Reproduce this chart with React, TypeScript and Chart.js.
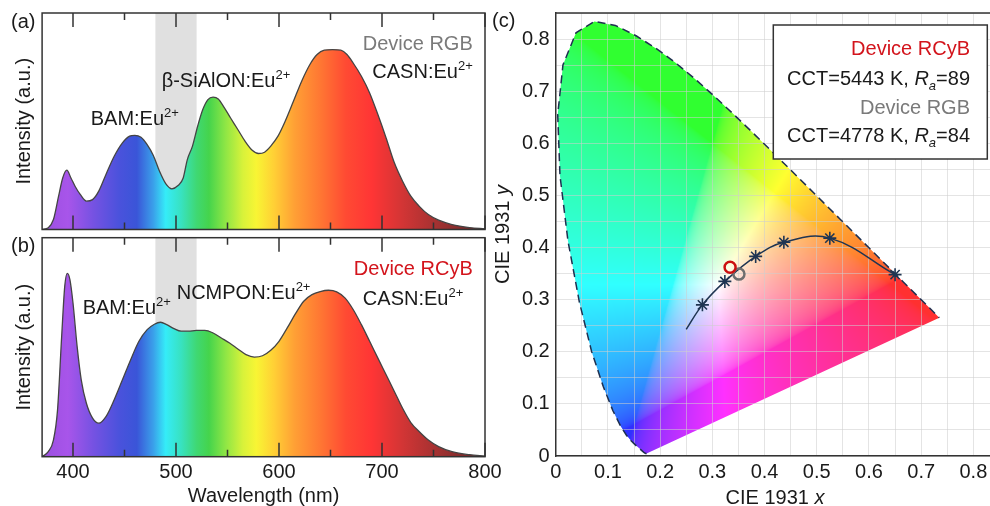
import React, { useEffect, useRef } from 'react';
import { Chart, registerables } from 'chart.js';

Chart.register(...registerables);

const FONT = '"Liberation Sans", Arial, Helvetica, sans-serif';

// ---------------- Panel (a): Device RGB spectrum ----------------
const wavelengthsA = [370, 376, 381, 386, 390, 394, 398, 402, 407, 413, 419, 425, 432, 440, 448, 455, 460, 466, 472, 478, 484, 490, 496, 502, 507, 511, 516, 521, 526, 531, 536, 541, 547, 553, 560, 567, 574, 580, 586, 592, 599, 606, 614, 622, 630, 637, 644, 652, 660, 666, 672, 680, 688, 696, 704, 712, 720, 728, 736, 745, 755, 768, 785, 800];
const intensityA = [0, 0.008, 0.046, 0.154, 0.238, 0.274, 0.238, 0.2, 0.162, 0.131, 0.138, 0.177, 0.254, 0.338, 0.4, 0.431, 0.435, 0.426, 0.392, 0.342, 0.269, 0.212, 0.188, 0.203, 0.238, 0.323, 0.385, 0.477, 0.554, 0.6, 0.611, 0.603, 0.562, 0.515, 0.462, 0.408, 0.366, 0.351, 0.357, 0.385, 0.431, 0.5, 0.592, 0.685, 0.762, 0.808, 0.828, 0.831, 0.828, 0.808, 0.769, 0.708, 0.631, 0.531, 0.423, 0.308, 0.223, 0.154, 0.108, 0.069, 0.043, 0.023, 0.009, 0.003];

// ---------------- Panel (b): Device RCyB spectrum ----------------
const wavelengthsB = [370, 376, 381, 385, 389, 392, 394.5, 397, 400, 404, 408, 413, 419, 425, 432, 440, 448, 456, 464, 472, 479, 485, 491, 498, 505, 512, 520, 528, 536, 544, 552, 560, 568, 576, 584, 592, 600, 608, 616, 624, 632, 640, 648, 656, 664, 672, 680, 688, 696, 704, 712, 720, 728, 736, 745, 755, 768, 785, 800];
const intensityB = [0, 0.023, 0.076, 0.214, 0.55, 0.779, 0.837, 0.809, 0.702, 0.504, 0.351, 0.244, 0.176, 0.153, 0.183, 0.26, 0.351, 0.443, 0.527, 0.58, 0.605, 0.614, 0.603, 0.585, 0.573, 0.573, 0.577, 0.577, 0.565, 0.542, 0.519, 0.492, 0.466, 0.455, 0.461, 0.486, 0.527, 0.588, 0.653, 0.71, 0.74, 0.754, 0.76, 0.753, 0.725, 0.672, 0.603, 0.527, 0.45, 0.374, 0.298, 0.221, 0.156, 0.115, 0.076, 0.046, 0.023, 0.009, 0.003];

const wavelengthMin = 370;
const wavelengthMax = 800;
const wavelengthTickMarks = [400, 450, 500, 550, 600, 650, 700, 750, 800];
const shadedBand = [480, 520];

// ---------------- Panel (c): CIE 1931 ----------------
const locusX = [0.17411, 0.1738, 0.17334, 0.17258, 0.17141, 0.16888, 0.16441, 0.15664, 0.15099, 0.14396, 0.1355, 0.12412, 0.10959, 0.09129, 0.06871, 0.04539, 0.02346, 0.00817, 0.00386, 0.01387, 0.03885, 0.0743, 0.11416, 0.15472, 0.19288, 0.22962, 0.26578, 0.3016, 0.33736, 0.3731, 0.40874, 0.44406, 0.47877, 0.51249, 0.54479, 0.57515, 0.60293, 0.62704, 0.64823, 0.66576, 0.68008, 0.6915, 0.70061, 0.70792, 0.71903, 0.72599, 0.73036, 0.73469];
const locusY = [0.00496, 0.00492, 0.0048, 0.0048, 0.0051, 0.0069, 0.01086, 0.01771, 0.02274, 0.0297, 0.03988, 0.0578, 0.08684, 0.1327, 0.20072, 0.29498, 0.4127, 0.53842, 0.65482, 0.75019, 0.81202, 0.8338, 0.82621, 0.80586, 0.78163, 0.75433, 0.72432, 0.69231, 0.65885, 0.62445, 0.58961, 0.55471, 0.5202, 0.48659, 0.45443, 0.42423, 0.3965, 0.37249, 0.35139, 0.33401, 0.31975, 0.30834, 0.2993, 0.29203, 0.28093, 0.27401, 0.26964, 0.26531];

const curveX = [0.25, 0.281, 0.324, 0.383, 0.437, 0.525, 0.65];
const curveY = [0.243, 0.29, 0.335, 0.383, 0.41, 0.418, 0.348];
const starX = [0.281, 0.324, 0.383, 0.437, 0.525, 0.65];
const starY = [0.29, 0.335, 0.383, 0.41, 0.418, 0.348];
const rcybX = [0.334];
const rcybY = [0.362];
const rgbX = [0.351];
const rgbY = [0.349];

const legendLines = ['Device RCyB', 'CCT=5443 K, ', '89', 'Device RGB', 'CCT=4778 K, ', '84'];

// ---------------- styles ----------------
const gradientStops: [number, string][] = [
  [370, '#9a4fe0'], [395, '#a855ea'], [420, '#7552e2'], [445, '#4a52dc'], [462, '#3a55d8'],
  [478, '#3aa0ea'], [490, '#35ecf8'], [505, '#38e2c0'], [520, '#3fd873'], [532, '#45d44c'],
  [548, '#8ee645'], [565, '#d8f23a'], [578, '#f8f534'], [595, '#ffd035'], [615, '#ffa035'],
  [640, '#ff7733'], [665, '#ff4a33'], [690, '#ff3535'], [720, '#d23535'], [760, '#9a3030'], [800, '#6a2626'],
];
const RED = '#d3141c';
const GRAY = '#7a7a7a';
const NAVY = '#1f3552';
const FRAME = '#333333';
const TEXT = '#1a1a1a';

type Part = { t: string; size?: number; dy?: number; italic?: boolean };

function drawRich(ctx: CanvasRenderingContext2D, parts: Part[], x: number, y: number, align: 'left' | 'right' | 'center', color: string) {
  const fonts = parts.map((p) => `${p.italic ? 'italic ' : ''}${p.size ?? 20}px ${FONT}`);
  const widths = parts.map((p, i) => {
    ctx.font = fonts[i];
    return ctx.measureText(p.t).width;
  });
  const total = widths.reduce((a, b) => a + b, 0);
  let cx = align === 'right' ? x - total : align === 'center' ? x - total / 2 : x;
  ctx.save();
  ctx.fillStyle = color;
  ctx.textBaseline = 'alphabetic';
  ctx.textAlign = 'left';
  parts.forEach((p, i) => {
    ctx.font = fonts[i];
    ctx.fillText(p.t, cx, y + (p.dy ?? 0));
    cx += widths[i];
  });
  ctx.restore();
}

const sup = (base: string): Part[] => [{ t: base }, { t: '2+', size: 13, dy: -8 }];

type Annot = { parts: Part[]; wl: number; val: number; align: 'left' | 'right'; color: string };

const annotationsA: Annot[] = [
  { parts: sup('BAM:Eu'), wl: 417.2, val: 0.515, align: 'left', color: TEXT },
  { parts: sup('β-SiAlON:Eu'), wl: 486.1, val: 0.691, align: 'left', color: TEXT },
  { parts: [{ t: 'Device RGB' }], wl: 788.1, val: 0.86, align: 'right', color: GRAY },
  { parts: sup('CASN:Eu'), wl: 788.1, val: 0.733, align: 'right', color: TEXT },
];
const annotationsB: Annot[] = [
  { parts: [{ t: 'Device RCyB' }], wl: 788.1, val: 0.86, align: 'right', color: RED },
  { parts: sup('NCMPON:Eu'), wl: 500.7, val: 0.753, align: 'left', color: TEXT },
  { parts: sup('BAM:Eu'), wl: 409.4, val: 0.682, align: 'left', color: TEXT },
  { parts: sup('CASN:Eu'), wl: 778.9, val: 0.723, align: 'right', color: TEXT },
];

function spectrumConfig(wl: number[], inten: number[], annots: Annot[], label: string, showX: boolean, layout: any, yAxisWidth: number): any {
  const plugin = {
    id: 'spectrumDecor',
    beforeDraw(chart: any) {
      const { ctx, chartArea: ca, scales } = chart;
      const x = scales.x;
      const x0 = x.getPixelForValue(shadedBand[0]);
      const x1 = x.getPixelForValue(shadedBand[1]);
      ctx.save();
      ctx.fillStyle = '#e0e0e0';
      ctx.fillRect(x0, ca.top, x1 - x0, ca.bottom - ca.top);
      ctx.restore();
    },
    afterDraw(chart: any) {
      const { ctx, chartArea: ca, scales } = chart;
      const x = scales.x;
      const y = scales.y;
      ctx.save();
      ctx.strokeStyle = FRAME;
      ctx.lineWidth = 1.5;
      ctx.strokeRect(ca.left, ca.top, ca.right - ca.left, ca.bottom - ca.top);
      ctx.beginPath();
      wavelengthTickMarks.forEach((v) => {
        const px = x.getPixelForValue(v);
        const len = v % 100 === 0 ? 14 : 7;
        ctx.moveTo(px, ca.bottom);
        ctx.lineTo(px, ca.bottom - len);
        ctx.moveTo(px, ca.top);
        ctx.lineTo(px, ca.top + len);
      });
      ctx.stroke();
      ctx.restore();
      annots.forEach((a) => {
        drawRich(ctx, a.parts, x.getPixelForValue(a.wl), y.getPixelForValue(a.val) + 7, a.align, a.color);
      });
      ctx.save();
      ctx.fillStyle = TEXT;
      ctx.font = `20px ${FONT}`;
      ctx.textBaseline = 'middle';
      ctx.textAlign = 'left';
      ctx.fillText(label, 11, ca.top + 9);
      ctx.restore();
    },
  };
  return {
    type: 'line',
    data: {
      datasets: [
        {
          data: wl.map((w, i) => ({ x: w, y: inten[i] })),
          borderColor: '#444',
          borderWidth: 1.3,
          pointRadius: 0,
          cubicInterpolationMode: 'monotone',
          fill: 'origin',
          backgroundColor: (c: any) => {
            const chart = c.chart;
            if (!chart.chartArea) return 'rgba(0,0,0,0)';
            const xs = chart.scales.x;
            const g = chart.ctx.createLinearGradient(xs.getPixelForValue(wavelengthMin), 0, xs.getPixelForValue(wavelengthMax), 0);
            gradientStops.forEach(([w, col]) => g.addColorStop((w - wavelengthMin) / (wavelengthMax - wavelengthMin), col));
            return g;
          },
        },
      ],
    },
    options: {
      responsive: false,
      animation: false,
      devicePixelRatio: 1,
      events: [],
      layout: { padding: layout, autoPadding: false },
      plugins: { legend: { display: false }, tooltip: { enabled: false } },
      scales: {
        x: {
          type: 'linear',
          min: wavelengthMin,
          max: wavelengthMax,
          display: showX,
          afterFit: (s: any) => {
            if (showX) s.height = 49.3;
            s.paddingLeft = 0;
            s.paddingRight = 0;
          },
          grid: { display: false, drawTicks: false },
          border: { display: false },
          ticks: {
            stepSize: 100,
            includeBounds: false,
            autoSkip: false,
            maxRotation: 0,
            padding: 4,
            color: TEXT,
            font: { family: FONT, size: 20 },
          },
          title: {
            display: true,
            text: 'Wavelength (nm)',
            color: TEXT,
            font: { family: FONT, size: 20, lineHeight: 1 },
            padding: { top: 0, bottom: 0 },
          },
        },
        y: {
          type: 'linear',
          min: 0,
          max: 1,
          afterFit: (s: any) => {
            s.width = yAxisWidth;
          },
          grid: { display: false, drawTicks: false },
          border: { display: false },
          ticks: { display: false },
          title: {
            display: true,
            text: 'Intensity (a.u.)',
            color: TEXT,
            font: { family: FONT, size: 20, lineHeight: 1 },
            padding: { top: 14, bottom: 0 },
          },
        },
      },
    },
    plugins: [plugin],
  };
}

function xyToRgb(x: number, y: number): [number, number, number] {
  if (y <= 0.0001) return [0, 0, 0];
  const X = x / y;
  const Y = 1;
  const Z = (1 - x - y) / y;
  let r = 3.2406 * X - 1.5372 * Y - 0.4986 * Z;
  let g = -0.9689 * X + 1.8758 * Y + 0.0415 * Z;
  let b = 0.0557 * X - 0.204 * Y + 1.057 * Z;
  r = Math.max(r, 0);
  g = Math.max(g, 0);
  b = Math.max(b, 0);
  const m = Math.max(r, g, b);
  if (m <= 0) return [0, 0, 0];
  const gam = (v: number) => (v <= 0.0031308 ? 12.92 * v : 1.055 * Math.pow(v, 1 / 2.4) - 0.055);
  const lift = (v: number) => 48 + gam(v) * 207;
  return [lift(r / m), lift(g / m), lift(b / m)];
}

const cieLabel = (v: number) => {
  const k = Math.round(v * 100);
  if (k % 10 !== 0) return '';
  return k === 0 ? '0' : (k / 100).toFixed(1);
};

function cieConfig(): any {
  const plugin = {
    id: 'cieDecor',
    beforeDraw(chart: any) {
      const { ctx, chartArea: ca, scales } = chart;
      const xs = scales.x;
      const ys = scales.y;
      const w = Math.ceil(ca.right - ca.left);
      const h = Math.ceil(ca.bottom - ca.top);
      const off = document.createElement('canvas');
      off.width = w;
      off.height = h;
      const octx = off.getContext('2d')!;
      const img = octx.createImageData(w, h);
      for (let j = 0; j < h; j++) {
        const yv = ys.getValueForPixel(ca.top + j + 0.5);
        for (let i = 0; i < w; i++) {
          const xv = xs.getValueForPixel(ca.left + i + 0.5);
          const [r, g, b] = xyToRgb(xv, yv);
          const k = (j * w + i) * 4;
          img.data[k] = r;
          img.data[k + 1] = g;
          img.data[k + 2] = b;
          img.data[k + 3] = 255;
        }
      }
      octx.putImageData(img, 0, 0);
      ctx.save();
      ctx.beginPath();
      locusX.forEach((lx, i) => {
        const px = xs.getPixelForValue(lx);
        const py = ys.getPixelForValue(locusY[i]);
        if (i === 0) ctx.moveTo(px, py);
        else ctx.lineTo(px, py);
      });
      ctx.closePath();
      ctx.clip();
      ctx.drawImage(off, ca.left, ca.top);
      ctx.restore();
    },
    afterDraw(chart: any) {
      const { ctx, chartArea: ca } = chart;
      ctx.save();
      ctx.strokeStyle = FRAME;
      ctx.lineWidth = 1.5;
      ctx.beginPath();
      ctx.moveTo(ca.left, ca.top);
      ctx.lineTo(ca.right, ca.top);
      ctx.stroke();
      // legend box
      const bx = 283.3, by = 25, bw = 214, bh = 134;
      ctx.fillStyle = '#ffffff';
      ctx.fillRect(bx, by, bw, bh);
      ctx.strokeStyle = FRAME;
      ctx.lineWidth = 1.5;
      ctx.strokeRect(bx, by, bw, bh);
      ctx.restore();
      const rx = 480;
      drawRich(ctx, [{ t: legendLines[0] }], rx, 55.3, 'right', RED);
      drawRich(ctx, [{ t: legendLines[1] }, { t: 'R', italic: true }, { t: 'a', italic: true, size: 13, dy: 5 }, { t: '=' + legendLines[2] }], rx, 85.3, 'right', TEXT);
      drawRich(ctx, [{ t: legendLines[3] }], rx, 114.3, 'right', GRAY);
      drawRich(ctx, [{ t: legendLines[4] }, { t: 'R', italic: true }, { t: 'a', italic: true, size: 13, dy: 5 }, { t: '=' + legendLines[5] }], rx, 142, 'right', TEXT);
      // axis titles
      drawRich(ctx, [{ t: 'CIE 1931 ' }, { t: 'x', italic: true }], 285, 503.7, 'center', TEXT);
      ctx.save();
      ctx.translate(11.7, (ca.top + ca.bottom) / 2);
      ctx.rotate(-Math.PI / 2);
      drawRich(ctx, [{ t: 'CIE 1931 ' }, { t: 'y', italic: true }], 0, 7, 'center', TEXT);
      ctx.restore();
      ctx.save();
      ctx.fillStyle = TEXT;
      ctx.font = `20px ${FONT}`;
      ctx.textBaseline = 'middle';
      ctx.fillText('(c)', 2, 21.7);
      ctx.restore();
    },
  };
  const axis = (pad: number, fit: (s: any) => void, max: number) => ({
    type: 'linear',
    min: 0,
    max,
    afterFit: fit,
    grid: { color: 'rgba(205,205,205,0.55)', lineWidth: 1, drawTicks: false },
    border: { display: true, color: FRAME, width: 1.5 },
    ticks: {
      stepSize: 0.05,
      includeBounds: false,
      autoSkip: false,
      maxRotation: 0,
      padding: pad,
      color: TEXT,
      font: { family: FONT, size: 20 },
      callback: (v: number) => cieLabel(v),
    },
  });
  return {
    type: 'scatter',
    data: {
      datasets: [
        {
          data: rcybX.map((v, i) => ({ x: v, y: rcybY[i] })),
          pointRadius: 5.5,
          pointBorderWidth: 2.5,
          pointBorderColor: '#cc1010',
          pointBackgroundColor: 'rgba(0,0,0,0)',
          showLine: false,
        },
        {
          data: rgbX.map((v, i) => ({ x: v, y: rgbY[i] })),
          pointRadius: 5.5,
          pointBorderWidth: 2.5,
          pointBorderColor: '#6f6f6f',
          pointBackgroundColor: 'rgba(0,0,0,0)',
          showLine: false,
        },
        {
          data: starX.map((v, i) => ({ x: v, y: starY[i] })),
          pointStyle: 'star',
          pointRadius: 6.5,
          pointBorderWidth: 1.6,
          pointBorderColor: NAVY,
          pointBackgroundColor: NAVY,
          showLine: false,
        },
        {
          data: curveX.map((v, i) => ({ x: v, y: curveY[i] })),
          showLine: true,
          pointRadius: 0,
          borderColor: NAVY,
          borderWidth: 1.5,
          tension: 0.4,
        },
        {
          data: locusX.map((v, i) => ({ x: v, y: locusY[i] })),
          showLine: true,
          pointRadius: 0,
          borderColor: '#1f3050',
          borderWidth: 1.5,
          borderDash: [8, 5],
          tension: 0,
        },
      ],
    },
    options: {
      responsive: false,
      animation: false,
      devicePixelRatio: 1,
      events: [],
      layout: { padding: { top: 13, right: 10.5, left: 0, bottom: 0 }, autoPadding: false },
      plugins: { legend: { display: false }, tooltip: { enabled: false } },
      scales: {
        x: axis(4, (s: any) => { s.height = 50; s.paddingLeft = 0; s.paddingRight = 0; }, 0.85),
        y: axis(6, (s: any) => { s.width = 65.7; s.paddingTop = 0; s.paddingBottom = 0; }, 0.85),
      },
    },
    plugins: [plugin],
  };
}

function ChartCanvas({ make, left, top, width, height }: { make: () => any; left: number; top: number; width: number; height: number }) {
  const ref = useRef<HTMLCanvasElement>(null);
  useEffect(() => {
    const chart = new Chart(ref.current as HTMLCanvasElement, make());
    return () => chart.destroy();
  }, []);
  return (
    <canvas
      ref={ref}
      width={width}
      height={height}
      style={{ position: 'absolute', left, top, width, height, display: 'block' }}
    />
  );
}

export default function App() {
  return (
    <div style={{ position: 'fixed', left: 0, top: 0, width: 990, height: 506, overflow: 'hidden', background: '#ffffff' }}>
      <ChartCanvas
        left={0}
        top={0}
        width={490}
        height={234}
        make={() => spectrumConfig(wavelengthsA, intensityA, annotationsA, '(a)', false, { top: 13, right: 5, left: 0, bottom: 4.5 }, 42.1)}
      />
      <ChartCanvas
        left={0}
        top={232}
        width={520}
        height={274}
        make={() => spectrumConfig(wavelengthsB, intensityB, annotationsB, '(b)', true, { top: 5.7, right: 35, left: 0, bottom: 0 }, 42.1)}
      />
      <ChartCanvas left={490} top={0} width={520} height={506} make={cieConfig} />
    </div>
  );
}
